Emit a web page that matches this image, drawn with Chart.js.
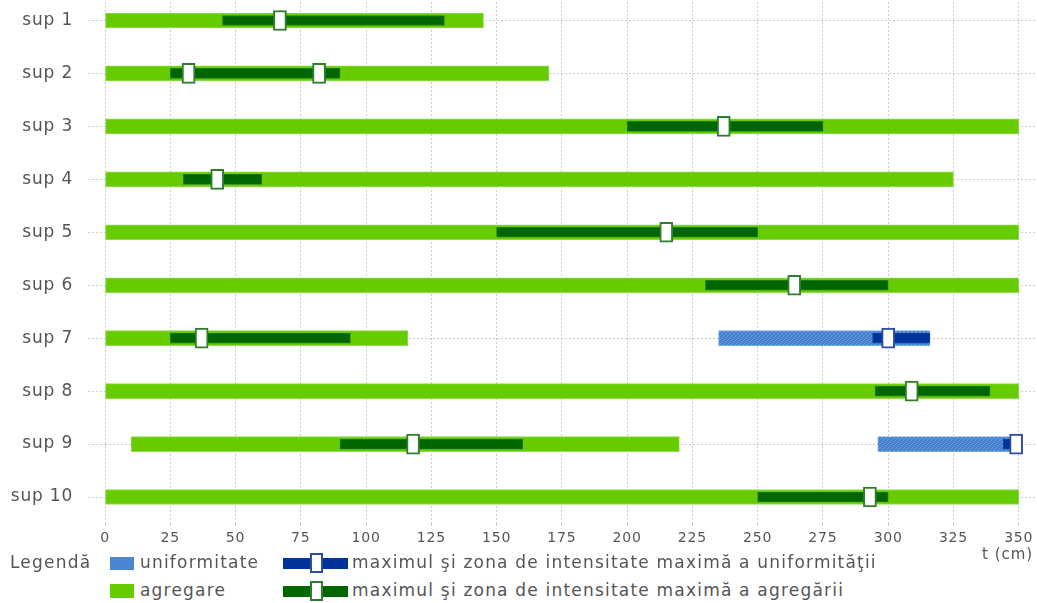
<!DOCTYPE html>
<html>
<head>
<meta charset="utf-8">
<script src="https://cdn.jsdelivr.net/npm/chart.js@4.4.0/dist/chart.umd.min.js"></script>
<style>
  body { margin: 0; width: 1037px; height: 603px; overflow: hidden; background: #fff; font-family: 'DejaVu Sans', sans-serif; color: #555; }
  #wrap { position: absolute; left: 0; top: -10px; width: 1037px; height: 572px; }
  .leg { position: absolute; font-size: 17px; line-height: 20px; white-space: nowrap; letter-spacing: 1.2px; }
  .box { position: absolute; box-sizing: border-box; }
</style>
</head>
<body>
<div id="wrap"><canvas id="grafic" width="1037" height="572"></canvas></div>

<!-- legenda, desenata in HTML -->
<div class="leg" style="left:10px;top:552px">Legendă</div>
<div class="box" style="left:110px;top:557px;width:24px;height:13px;background:#4a86d2"></div>
<div class="leg" style="left:140px;top:552px">uniformitate</div>
<div class="box" style="left:283px;top:558px;width:65px;height:11px;background:#003399"></div>
<div class="box" style="left:310px;top:553px;width:13px;height:20px;border:2px solid #2c4da0;background:#fff"></div>
<div class="leg" style="left:352px;top:552px">maximul şi zona de intensitate maximă a uniformităţii</div>
<div class="leg" style="left:982px;top:544px;font-size:15px;letter-spacing:1px">t (cm)</div>

<div class="box" style="left:110px;top:584px;width:24px;height:14px;background:#66cc00"></div>
<div class="leg" style="left:140px;top:580px">agregare</div>
<div class="box" style="left:283px;top:586px;width:65px;height:11px;background:#006600"></div>
<div class="box" style="left:310px;top:581px;width:13px;height:20px;border:2px solid #2f7d2f;background:#fff"></div>
<div class="leg" style="left:352px;top:580px">maximul şi zona de intensitate maximă a agregării</div>

<script>
// categorii (suprafete)
const categorii = ['sup 1', 'sup 2', 'sup 3', 'sup 4', 'sup 5', 'sup 6', 'sup 7', 'sup 8', 'sup 9', 'sup 10'];

// intervale [inceput, sfarsit] in cm
const agregare = [[0, 145], [0, 170], [0, 350], [0, 325], [0, 350], [0, 350], [0, 116], [0, 350], [10, 220], [0, 350]];
const uniformitate = [null, null, null, null, null, null, [235, 316], null, [296, 350], null];
const zonaAgregare = [[45, 130], [25, 90], [200, 275], [30, 60], [150, 250], [230, 300], [25, 94], [295, 339], [90, 160], [250, 300]];
const zonaUniformitate = [null, null, null, null, null, null, [294, 316], null, [344, 350], null];

// maximele (cm)
const maxAgregare = [67, 32, 237, 43, 215, 264, 37, 309, 118, 293];
const maxAgregare2 = [null, 82, null, null, null, null, null, null, null, null];
const maxUniformitate = [null, null, null, null, null, null, 300, null, 349, null];

// axa t
const tMin = 0;
const tMax = 350;
const tPas = 25;

// marcaj = mica bara plutitoare centrata pe maxim
function marcaj(v) {
  return v == null ? null : [v - 2.5, v + 2.5];
}

// textura albastra pentru uniformitate
function texturaAlbastra(ctx) {
  const c = document.createElement('canvas');
  c.width = 4; c.height = 4;
  const g = c.getContext('2d');
  g.fillStyle = '#4a86d2';
  g.fillRect(0, 0, 4, 4);
  g.fillStyle = '#3a72c2';
  [[0, 0], [2, 1], [1, 2], [3, 3]].forEach(p => g.fillRect(p[0], p[1], 1, 1));
  g.fillStyle = '#6a9ede';
  [[2, 0], [0, 1], [3, 2], [1, 3]].forEach(p => g.fillRect(p[0], p[1], 1, 1));
  return ctx.createPattern(c, 'repeat');
}

const ctx = document.getElementById('grafic').getContext('2d');
const albastru = texturaAlbastra(ctx);

const marcajAgregare = {
  backgroundColor: '#ffffff',
  borderColor: '#2f7d2f',
  borderWidth: 2,
  barThickness: 20,
  order: 0,
  clip: false
};

// litere ceva mai rasfirate, ca in original
const spatiereLitere = {
  id: 'spatiereLitere',
  beforeDraw(chart) { chart.ctx.letterSpacing = '0.8px'; }
};

new Chart(ctx, {
  type: 'bar',
  data: {
    labels: categorii,
    datasets: [
      Object.assign({ label: 'max agregare', data: maxAgregare.map(marcaj) }, marcajAgregare),
      Object.assign({ label: 'max agregare 2', data: maxAgregare2.map(marcaj) }, marcajAgregare),
      {
        label: 'max uniformitate',
        data: maxUniformitate.map(marcaj),
        backgroundColor: '#ffffff',
        borderColor: '#2c4da0',
        borderWidth: 2,
        barThickness: 20,
        order: 0,
        clip: false
      },
      {
        label: 'zona agregare',
        data: zonaAgregare,
        backgroundColor: '#006600',
        borderColor: '#1d7a1d',
        borderWidth: 1,
        barThickness: 10,
        order: 1
      },
      {
        label: 'zona uniformitate',
        data: zonaUniformitate,
        backgroundColor: '#003399',
        borderColor: '#1a45a8',
        borderWidth: 1,
        barThickness: 10,
        order: 1
      },
      {
        label: 'agregare',
        data: agregare,
        backgroundColor: '#66cc00',
        borderColor: '#8fdc4a',
        borderWidth: 1,
        barThickness: 15,
        order: 2
      },
      {
        label: 'uniformitate',
        data: uniformitate,
        backgroundColor: albastru,
        borderColor: '#7aaae6',
        borderWidth: 1,
        barThickness: 15,
        order: 2
      }
    ]
  },
  plugins: [spatiereLitere],
  options: {
    indexAxis: 'y',
    responsive: false,
    animation: false,
    layout: { padding: { top: 4, left: 0, right: 0, bottom: 0 } },
    datasets: { bar: { grouped: false, borderSkipped: false } },
    plugins: {
      legend: { display: false },
      tooltip: { enabled: false }
    },
    scales: {
      x: {
        type: 'linear',
        min: tMin,
        max: tMax + 7,
        afterBuildTicks: s => {
          const t = [];
          for (let v = tMin; v <= tMax; v += tPas) t.push({ value: v });
          s.ticks = t;
        },
        afterFit: s => { s.height = 38.5; s.paddingLeft = 0; s.paddingRight = 0; },
        ticks: {
          stepSize: tPas,
          color: '#555',
          font: { family: 'DejaVu Sans', size: 14 },
          padding: 1,
          maxRotation: 0,
          autoSkip: false
        },
        grid: { color: '#cccccc', tickColor: '#cccccc', tickLength: 5, tickBorderDash: [2, 2] },
        border: { display: false, dash: [2, 2] }
      },
      y: {
        afterFit: s => { s.width = 105; s.paddingTop = 0; s.paddingBottom = 0; },
        ticks: {
          color: '#555',
          font: { family: 'DejaVu Sans', size: 17 },
          padding: 15,
          autoSkip: false
        },
        grid: { offset: false, color: '#cccccc', tickColor: '#cccccc', tickLength: 17, tickBorderDash: [2, 2] },
        border: { display: false, dash: [2, 2] }
      }
    }
  }
});
</script>
</body>
</html>
